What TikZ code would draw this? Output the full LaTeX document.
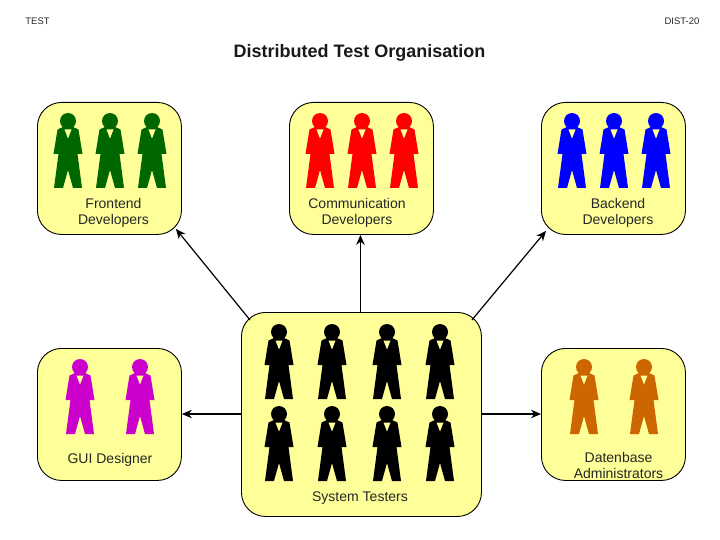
\documentclass[tikz,border=0pt]{standalone}
\usepackage{fontspec}
\setmainfont{Liberation Sans}
\usetikzlibrary{arrows.meta}
\tikzset{
  panel/.style={draw=black,line width=0.9pt,fill=panelyellow,rounded corners=24pt,inner sep=0pt,anchor=north west},
  lbl/.style={font=\fontsize{14}{16.7}\selectfont,align=center,text=black!85,inner sep=0pt},
  hdr/.style={font=\fontsize{9.5}{11}\selectfont,inner sep=0pt,text=black!85},
  link/.style={line width=1.2pt,-{Stealth[length=10pt,width=8.5pt]}},
  pics/person/.style={code={
    \fill[#1] (0,0) circle (8);
    \fill[#1,line join=round] (-5,6) -- (-10.5,8.5) -- (-14.5,33) -- (-9.5,33) -- (-14,67) -- (-5,67) -- (0,49) -- (5,67) -- (14,67) -- (9.5,33) -- (14.5,33) -- (10.5,8.5) -- (5,6) -- cycle;
    \fill[panelyellow] (-3.5,8.5) -- (3.5,8.5) -- (0,17.5) -- cycle;
  }}
}
\definecolor{panelyellow}{HTML}{FFFF99}
\definecolor{pgreen}{HTML}{006600}
\definecolor{pred}{HTML}{FF0000}
\definecolor{pblue}{HTML}{0000FF}
\definecolor{pmag}{HTML}{CC00CC}
\definecolor{porange}{HTML}{CC6600}
\begin{document}
\begin{tikzpicture}[x=1pt,y=-1pt]
\useasboundingbox (0,0) rectangle (720,540);
\node[hdr] (t1) at (37.5,21) {TEST};
\node[hdr] (t2) at (682,21) {DIST-20};
\node[font=\fontsize{18}{21}\bfseries\selectfont,inner sep=0pt,text=black!90] (title) at (359.5,52.5) {Distributed Test Organisation};

\node[panel,minimum width=144pt,minimum height=132pt] (fe) at (37,102) {};
\node[panel,minimum width=144pt,minimum height=132pt] (co) at (289,102) {};
\node[panel,minimum width=144pt,minimum height=132pt] (be) at (541,102) {};
\node[panel,minimum width=144pt,minimum height=132pt] (gu) at (37,348) {};
\node[panel,minimum width=144pt,minimum height=132pt] (db) at (541,348) {};
\node[panel,minimum width=240pt,minimum height=204pt] (sy) at (241,312) {};

\foreach \x in {68,110,152} \pic at (\x,121) {person=pgreen};
\foreach \x in {320,362,404} \pic at (\x,121) {person=pred};
\foreach \x in {572,614,656} \pic at (\x,121) {person=pblue};
\foreach \x in {80,140} \pic at (\x,367) {person=pmag};
\foreach \x in {584,644} \pic at (\x,367) {person=porange};
\foreach \x in {279,332,387,440} {
  \pic at (\x,332) {person=black};
  \pic at (\x,414) {person=black};
}

\node[lbl] (l1) at (113.5,213) {Frontend\\Developers};
\node[lbl] (l2) at (357,213) {Communication\\Developers};
\node[lbl] (l3) at (618,213) {Backend\\Developers};
\node[lbl] (l4) at (110,459.5) {GUI Designer};
\node[lbl] (l5) at (618.5,465.5) {Datenbase\\Administrators};
\node[lbl] (l6) at (360,498) {System Testers};

\draw[link] ([xshift=9pt,yshift=-8pt]sy.north west) -- ([xshift=-6pt,yshift=6pt]fe.south east);
\draw[link] ([xshift=-1pt]sy.north) -- ([xshift=-1pt]co.south);
\draw[link] ([xshift=-10pt,yshift=-8pt]sy.north east) -- ([xshift=5pt,yshift=4pt]be.south west);
\draw[link] (sy.west |- 0,414) -- (gu.east |- 0,414);
\draw[link] (sy.east |- 0,414) -- (db.west |- 0,414);
\end{tikzpicture}
\end{document}
